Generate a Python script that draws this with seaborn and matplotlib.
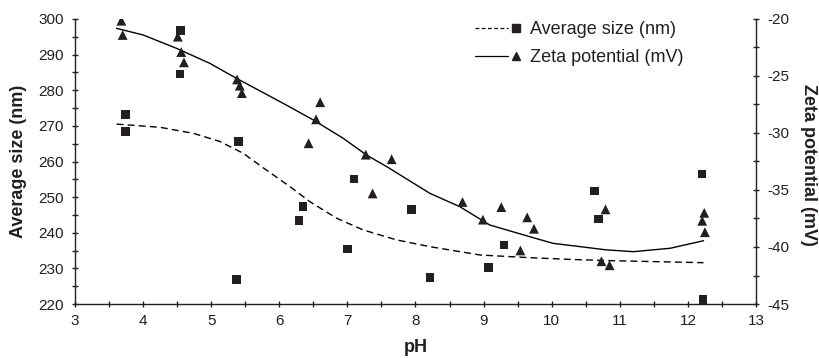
import numpy as np
import pandas as pd
import matplotlib
matplotlib.use("Agg")
import matplotlib.pyplot as plt
import seaborn as sns
from matplotlib.lines import Line2D
from matplotlib.legend_handler import HandlerBase
from matplotlib.ticker import MultipleLocator

# ---- data ----
size_ph = [3.74, 3.74, 4.55, 4.54, 5.40, 5.37, 6.29, 6.35, 7.00, 7.10,
           7.94, 8.21, 9.07, 9.30, 10.63, 10.69, 12.21, 12.22]
size_nm = [273.2, 268.4, 296.7, 284.6, 265.6, 226.8, 243.5, 247.4, 235.5, 255.1,
           246.6, 227.4, 230.2, 236.5, 251.7, 243.9, 256.5, 221.3]

zeta_ph = [3.68, 3.70, 4.51, 4.56, 4.60, 5.38, 5.42, 5.45, 6.60, 6.54, 6.43,
           7.27, 7.65, 7.37, 8.69, 8.99, 9.26, 9.64, 9.74, 9.54, 10.79, 10.73,
           10.85, 12.24, 12.21, 12.25]
zeta_mv = [-20.15, -21.4, -21.55, -22.9, -23.8, -25.3, -25.85, -26.5, -27.3, -28.8,
           -30.9, -31.9, -32.3, -35.3, -36.05, -37.6, -36.5, -37.4, -38.4, -40.3,
           -36.7, -41.25, -41.6, -37.0, -37.7, -38.7]

size_fit_ph = [3.61, 4.25, 4.74, 5.13, 5.47, 5.81, 6.16, 6.45, 6.84, 7.23, 7.72,
               8.21, 8.95, 9.68, 10.30, 10.90, 11.50, 12.23]
size_fit_nm = [270.5, 269.6, 267.9, 265.6, 262.3, 257.6, 252.9, 248.7, 244.1, 240.8,
               238.0, 236.1, 233.75, 233.0, 232.5, 232.15, 231.9, 231.6]

zeta_fit_ph = [3.61, 4.00, 4.49, 4.98, 5.37, 5.72, 6.11, 6.50, 6.94, 7.28, 7.58,
               8.21, 8.65, 9.09, 9.68, 10.02, 10.42, 10.80, 11.20, 11.74, 12.23]
zeta_fit_mv = [-20.82, -21.40, -22.57, -23.89, -25.20, -26.32, -27.57, -28.86,
               -30.47, -31.93, -32.96, -35.29, -36.46, -38.07, -39.10, -39.68,
               -39.97, -40.25, -40.41, -40.11, -39.45]

size_ticks = list(range(220, 301, 10))
zeta_ticks = [-45, -40, -35, -30, -25, -20]
ph_ticks = list(range(3, 14))

# ---- styling ----
sns.set_theme(style="ticks")
plt.rcParams['font.family'] = ['Liberation Sans', 'DejaVu Sans']
plt.rcParams['axes.unicode_minus'] = False
TICK_FS = 11
LAB_FS = 13
LEG_FS = 13
INK = "#231f20"

fig = plt.figure(figsize=(8.2, 3.58), dpi=100)
ax = fig.add_axes([75/820, 1-304/358, (756-75)/820, (304-19)/358])
ax2 = ax.twinx()

df_size = pd.DataFrame({"pH": size_ph, "size": size_nm})
df_zeta = pd.DataFrame({"pH": zeta_ph, "zeta": zeta_mv})
df_sfit = pd.DataFrame({"pH": size_fit_ph, "size": size_fit_nm})
df_zfit = pd.DataFrame({"pH": zeta_fit_ph, "zeta": zeta_fit_mv})

sns.lineplot(data=df_sfit, x="pH", y="size", ax=ax, color="black", lw=1.0,
             linestyle=(0, (5, 3)), sort=False)
sns.scatterplot(data=df_size, x="pH", y="size", ax=ax, marker="s", s=38,
                color=INK, edgecolor="none", zorder=3)
sns.lineplot(data=df_zfit, x="pH", y="zeta", ax=ax2, color="black", lw=1.0,
             sort=False)
sns.scatterplot(data=df_zeta, x="pH", y="zeta", ax=ax2, marker="^", s=50,
                color=INK, edgecolor="none", zorder=3)

ax.set_xlim(3, 13)
ax.set_ylim(220, 300)
ax2.set_ylim(-45, -20)
ax.set_xticks(ph_ticks)
ax.set_yticks(size_ticks)
ax2.set_yticks(zeta_ticks)
ax.xaxis.set_minor_locator(MultipleLocator(0.5))
ax.yaxis.set_minor_locator(MultipleLocator(5))
ax2.yaxis.set_minor_locator(MultipleLocator(2.5))

for a in (ax, ax2):
    a.tick_params(which="major", direction="inout", length=5, width=1.0,
                  labelsize=TICK_FS, color=INK, labelcolor=INK)
    a.tick_params(which="minor", direction="inout", length=5, width=1.0,
                  color=INK)
    for sp in a.spines.values():
        sp.set_color(INK)
        sp.set_linewidth(1.0)
    a.spines["top"].set_visible(False)
ax.tick_params(axis="y", which="major", pad=5.5)
ax.tick_params(axis="x", which="major", pad=4.5)
ax2.tick_params(axis="y", which="major", pad=5.5)
ax.spines["right"].set_visible(False)
ax2.spines["left"].set_visible(False)
ax2.spines["bottom"].set_visible(False)
ax2.spines["right"].set_visible(True)

ax.set_xlabel("pH", fontsize=LAB_FS, fontweight="bold", color=INK)
ax.set_ylabel("Average size (nm)", fontsize=LAB_FS, fontweight="bold", color=INK)
ax2.set_ylabel("Zeta potential (mV)", fontsize=LAB_FS, fontweight="bold",
               rotation=270, color=INK)
ax.xaxis.label.set_verticalalignment("center")
ax.xaxis.set_label_coords(0.5, (304-347)/285)
ax.yaxis.label.set_verticalalignment("center")
ax.yaxis.set_label_coords((18.5-75)/681, 0.5)
ax2.yaxis.label.set_verticalalignment("center")
ax2.yaxis.set_label_coords((809-75)/681, 1-(165-19)/285)


class LineMarkerHandler(HandlerBase):
    def __init__(self, ls, marker, ms):
        super().__init__()
        self.ls = ls
        self.marker = marker
        self.ms = ms

    def create_artists(self, legend, orig_handle, xdescent, ydescent, width,
                       height, fontsize, trans):
        y = height / 2 - ydescent
        x0 = -xdescent
        line = Line2D([x0, x0 + 0.66 * width], [y, y], linestyle=self.ls,
                      color="black", lw=0.9, transform=trans)
        mk = Line2D([x0 + 0.82 * width], [y], marker=self.marker, ms=self.ms,
                    color=INK, linestyle="none", transform=trans)
        return [line, mk]


h1 = Line2D([], [], label="Average size (nm)")
h2 = Line2D([], [], label="Zeta potential (mV)")
leg = ax.legend(handles=[h1, h2],
                handler_map={h1: LineMarkerHandler((0, (3, 2)), "s", 5.5),
                             h2: LineMarkerHandler("-", "^", 6)},
                loc="upper left", bbox_to_anchor=(475/820, 1-21/358),
                bbox_transform=fig.transFigure, frameon=False, fontsize=LEG_FS,
                handlelength=2.78, handletextpad=0.28, labelspacing=0.62,
                borderpad=0, borderaxespad=0)
for t in leg.get_texts():
    t.set_color(INK)

fig.savefig("out.png", dpi=100)
